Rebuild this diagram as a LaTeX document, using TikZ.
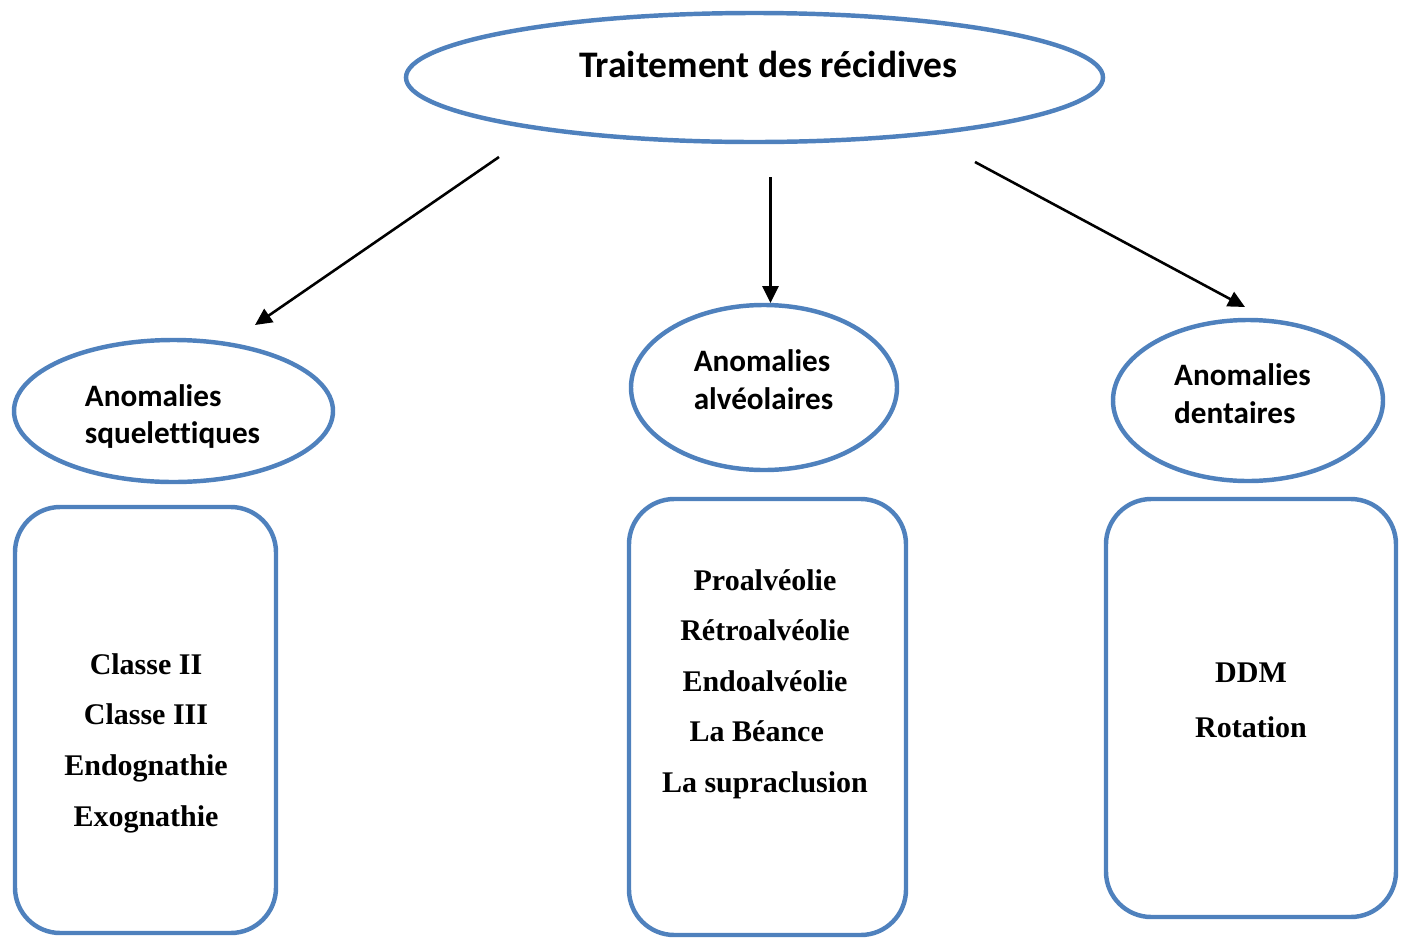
\documentclass[tikz,border=0pt]{standalone}
\usepackage{fontspec}
\setmainfont{Liberation Serif}
\newfontfamily\calibri[Ligatures=NoCommon]{Carlito}
\usetikzlibrary{shapes.geometric,arrows.meta}
\definecolor{ovalblue}{RGB}{79,129,189}

\begin{document}
\begin{tikzpicture}[x=0.015cm,y=-0.015cm]
            \tikzset{oval/.style={draw=ovalblue, line width=1.9pt, ellipse, inner sep=0pt},
                     listbox/.style={draw=ovalblue, line width=1.9pt, rectangle, rounded corners=0.68cm, inner sep=0pt},
                     ovaltext/.style={align=left, inner sep=0pt, font=\calibri\bfseries\fontsize{13.3}{16.2}\selectfont},
                     listtext/.style={align=center, inner sep=0pt, font=\bfseries\fontsize{12.8}{21.6}\selectfont},
                     pointer/.style={-{Triangle[length=7.2pt,width=6.8pt]}, line width=1.1pt}}

            \useasboundingbox (0,0) rectangle (1407,938);

            % top
            \node[oval, minimum width=10.455cm, minimum height=1.935cm] (root) at (754.5,77.5) {};
            \node[inner sep=0pt, font=\calibri\bfseries\fontsize{16}{19}\selectfont] (roottext) at (768.5,64) {Traitement des récidives};

            % the three kinds
            \node[oval, minimum width=4.785cm, minimum height=2.13cm] (skel) at (173.5,411) {};
            \node[ovaltext] (skeltext) at (172.5,416.5) {Anomalies\\squelettiques};

            \node[oval, minimum width=3.99cm, minimum height=2.475cm] (alv) at (764,387.5) {};
            \node[ovaltext] (alvtext) at (763.5,380) {Anomalies\\alvéolaires};

            \node[oval, minimum width=4.05cm, minimum height=2.415cm] (dent) at (1248,400.5) {};
            \node[ovaltext] (denttext) at (1242.5,394) {Anomalies\\dentaires};

            % lists
            \node[listbox, minimum width=3.915cm, minimum height=6.39cm] (skelbox) at (145.5,720) {};
            \node[listtext] (skellist) at (146,743) {Classe II\\Classe III\\Endognathie\\Exognathie};

            \node[listbox, minimum width=4.155cm, minimum height=6.54cm] (alvbox) at (767.5,717) {};
            \node[listtext] (alvlist) at (765,684) {Proalvéolie\\Rétroalvéolie\\Endoalvéolie\\La Béance\kern0.55em\\La supraclusion};

            \node[listbox, minimum width=4.35cm, minimum height=6.27cm] (dentbox) at (1251,708) {};
            \node[listtext, font=\bfseries\fontsize{12.8}{23.5}\selectfont] (dentlist) at (1251,700) {DDM\\Rotation};

            % arrows
            \coordinate (fromleft) at (499,157);
            \coordinate (toleft) at (255,325);
            \coordinate (frommid) at (770.5,177);
            \coordinate (tomid) at (770.5,303);
            \coordinate (fromright) at (975,162);
            \coordinate (toright) at (1245,307);
            \draw[pointer] (fromleft) -- (toleft);
            \draw[pointer] (frommid) -- (tomid);
            \draw[pointer] (fromright) -- (toright);
        \end{tikzpicture}
\end{document}
